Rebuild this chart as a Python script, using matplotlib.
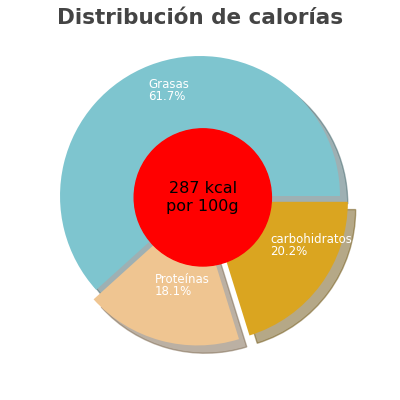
import matplotlib
matplotlib.use("Agg")
import matplotlib.pyplot as plt
import numpy as np

labels = ["Grasas", "Proteínas", "carbohidratos"]
values = [61.7, 18.1, 20.2]
colors = ["#7ec5cf", "#efc591", "#daa520"]
explode = [0, 0.07, 0.07]
center_text = "287 kcal\npor 100g"
title = "Distribución de calorías"

fig = plt.figure(figsize=(4, 4), dpi=100)
ax = fig.add_axes([0.1, 0.11, 0.8, 0.8])
wedges, _ = ax.pie(values, colors=colors, explode=explode, startangle=0,
                   counterclock=True, shadow={'ox': 0.04, 'oy': -0.04, 'shade': 0.5},
                   radius=1)
start = 0
for w, lab, v, e in zip(wedges, labels, values, explode):
    mid = np.deg2rad(start + v * 3.6 / 2)
    start += v * 3.6
    r = 0.7 + e
    x, y = r * np.cos(mid), r * np.sin(mid)
    ax.text(x - 0.12, y + 0.1, f"{lab}\n{v}%", color="white", fontsize=8.5,
            ha="left", va="center", linespacing=0.9)
ax.add_patch(plt.Circle((0.02, -0.01), 0.49, color="red", zorder=5))
ax.text(0.02, -0.01, center_text, ha="center", va="center", fontsize=11.5, zorder=6)
ax.set_xlim(-1.143, 1.143)
ax.set_ylim(-1.143, 1.143)
ax.set_aspect("equal")
ax.axis("off")
fig.text(0.5, 0.955, title, ha="center", va="center", fontsize=15.5,
         fontweight="bold", color="#444444")
fig.savefig("out.png")
